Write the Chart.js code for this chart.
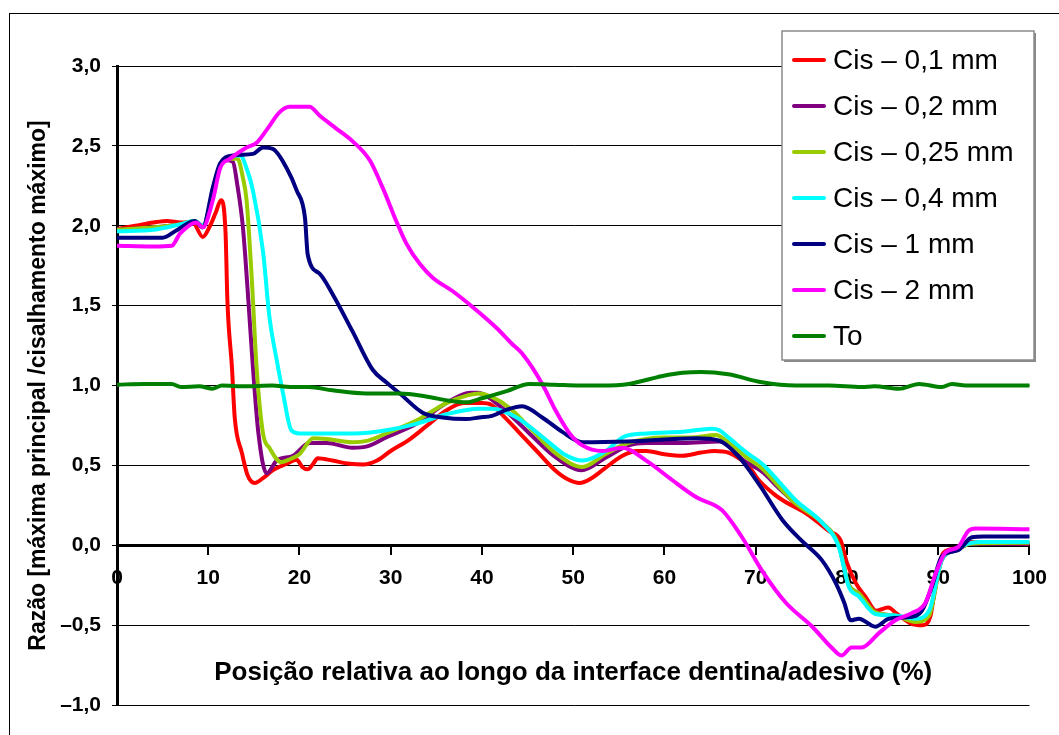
<!DOCTYPE html>
<html>
<head>
<meta charset="utf-8">
<title>Razão máxima principal / cisalhamento máximo</title>
<script src="https://cdn.jsdelivr.net/npm/chart.js@4.4.1/dist/chart.umd.min.js"></script>
<style>
  html, body { margin: 0; padding: 0; background: #fff; }
  #chart { display: block; }
</style>
</head>
<body>
<canvas id="chart" width="1059" height="735"></canvas>
<script>
// posição relativa (%) e razão para cada curva
const cis01X = [0, 2, 4, 5.5, 7, 8.3, 9.4, 10.2, 10.8, 11.4, 11.9, 12.1, 12.6, 12.9, 13.7, 14.3, 15.1, 16, 17.1, 18.6,
  19.7, 20.3, 20.9, 21.5, 22, 23.6, 25.5, 27, 28.5, 30, 32, 34, 36, 38, 40, 41, 42.5, 44, 46, 48,
  49.5, 50.7, 52, 53.2, 55.4, 57, 58, 60, 62, 64, 65.5, 67, 68, 69.3, 70.3, 72, 73, 75.5, 78, 79.3,
  80, 81, 82, 83.2, 84.5, 85.5, 87, 88.3, 89.2, 89.8, 90.6, 92.2, 93.7, 95, 100];
const cis01Y = [1.98, 2.0, 2.02, 2.03, 2.02, 2.02, 1.93, 2.0, 2.08, 2.16, 1.95, 1.53, 1.11, 0.80, 0.575, 0.44, 0.39, 0.42, 0.47, 0.51,
  0.535, 0.49, 0.475, 0.51, 0.545, 0.53, 0.51, 0.505, 0.53, 0.59, 0.66, 0.75, 0.84, 0.89, 0.89, 0.88, 0.8, 0.71, 0.59, 0.47,
  0.41, 0.39, 0.42, 0.47, 0.56, 0.59, 0.59, 0.57, 0.56, 0.58, 0.59, 0.58, 0.55, 0.49, 0.41, 0.32, 0.28, 0.2, 0.09, 0.03,
  -0.11, -0.24, -0.32, -0.41, -0.39, -0.43, -0.49, -0.5, -0.43, -0.2, -0.045, -0.02, 0.02, 0.015, 0.01];

const cis02X = [0, 4, 7, 8.5, 9.4, 10.5, 11.3, 12, 12.7, 13.2, 13.8, 14.4, 14.9, 15.5, 16.4, 17.5, 19.3, 21.1, 23, 25.8,
  27.5, 29.5, 32.8, 36.1, 38.7, 39.5, 42.2, 45.2, 48.1, 50.9, 53.6, 56.1, 58, 62, 66, 67, 68.5, 70.7, 72.5, 74.4,
  77.3, 79.1, 80.2, 81.3, 83.1, 85.3, 87.5, 89, 90.4, 92, 93.5, 100];
const cis02Y = [1.975, 1.99, 2.01, 2.03, 2.0, 2.2, 2.37, 2.41, 2.40, 2.25, 1.99, 1.53, 1.11, 0.70, 0.45, 0.53, 0.56, 0.64, 0.64, 0.61,
  0.62, 0.675, 0.76, 0.89, 0.955, 0.955, 0.86, 0.70, 0.55, 0.47, 0.55, 0.625, 0.64, 0.64, 0.65, 0.625, 0.54, 0.46, 0.36, 0.26,
  0.14, 0.0, -0.25, -0.3, -0.42, -0.44, -0.47, -0.43, -0.09, -0.03, 0.01, 0.01];

const cis025X = [0, 4, 7, 8.5, 9.4, 10.5, 11.3, 12.4, 13.2, 13.8, 14.2, 14.8, 15.3, 16, 16.7, 18, 19, 20, 21.5, 23,
  25.8, 27.5, 29.5, 32.8, 36.1, 38.5, 39.7, 41, 43, 45.5, 48.2, 51, 53.5, 56, 60, 63, 65.6, 67, 69, 70.7,
  72.5, 74.4, 77.3, 79.1, 80.2, 81.3, 83.1, 85.3, 87.5, 89, 90.4, 92, 93.5, 100];
const cis025Y = [1.975, 1.99, 2.01, 2.03, 2.0, 2.2, 2.37, 2.42, 2.42, 2.3, 2.16, 1.64, 1.11, 0.70, 0.61, 0.52, 0.54, 0.57, 0.67, 0.665,
  0.645, 0.655, 0.70, 0.78, 0.89, 0.94, 0.95, 0.93, 0.86, 0.72, 0.57, 0.49, 0.57, 0.64, 0.675, 0.675, 0.69, 0.645, 0.55, 0.48,
  0.37, 0.26, 0.14, 0.0, -0.25, -0.3, -0.42, -0.44, -0.48, -0.44, -0.09, -0.03, 0.01, 0.015];

const cis04X = [0, 4, 7, 8.5, 9.4, 10.5, 11.3, 12.4, 13.5, 14.2, 14.9, 16, 16.7, 17.5, 18.2, 19.1, 20, 22, 26, 29.5,
  32.8, 36.1, 39.7, 41.1, 43.8, 47, 49, 51, 53.6, 55.4, 58, 62, 65.2, 66, 67, 69, 70.7, 72.5, 74.4, 77.3,
  79.1, 80.2, 81.3, 83.1, 85.3, 87.5, 89, 90.4, 91.9, 93.3, 94.5, 100];
const cis04Y = [1.965, 1.975, 2.01, 2.03, 2.0, 2.2, 2.37, 2.43, 2.44, 2.36, 2.22, 1.84, 1.43, 1.16, 0.95, 0.72, 0.70, 0.70, 0.70, 0.72,
  0.76, 0.82, 0.855, 0.855, 0.80, 0.66, 0.57, 0.53, 0.59, 0.675, 0.70, 0.71, 0.73, 0.72, 0.675, 0.58, 0.51, 0.40, 0.28, 0.14,
  -0.01, -0.26, -0.32, -0.43, -0.44, -0.46, -0.41, -0.09, -0.03, 0.01, 0.02, 0.02];

const cis1X = [0, 5, 6.5, 8.5, 9.4, 10.5, 11.3, 12.7, 14.9, 16, 17.1, 18.6, 19.7, 20.6, 20.9, 22.2, 23.6, 25.8, 28, 29.5,
  31, 33.5, 35.7, 38.3, 39.7, 41.1, 42.8, 44.4, 46.6, 48.8, 51, 56, 63.5, 66, 68.2, 70.5, 72.9, 75, 77.2, 78.8,
  79.7, 80.4, 81.3, 83.1, 84.6, 86.8, 88.2, 89.3, 90.4, 92.2, 93.7, 95, 100];
const cis1Y = [1.925, 1.925, 1.97, 2.03, 1.99, 2.24, 2.39, 2.44, 2.45, 2.49, 2.48, 2.36, 2.22, 2.05, 1.82, 1.70, 1.575, 1.34, 1.1, 1.02,
  0.95, 0.83, 0.80, 0.79, 0.80, 0.81, 0.85, 0.87, 0.80, 0.71, 0.645, 0.65, 0.67, 0.655, 0.55, 0.37, 0.16, 0.03, -0.09, -0.24,
  -0.36, -0.47, -0.46, -0.51, -0.46, -0.45, -0.41, -0.26, -0.07, -0.03, 0.05, 0.055, 0.055];

const cis2X = [0, 4, 6, 6.9, 8.7, 9.4, 10.5, 11.3, 12.4, 14.2, 15.3, 16.4, 17.8, 18.9, 21.1, 22.2, 24, 25.8, 27.7, 29.1,
  30.6, 31.7, 33.2, 34.6, 36.8, 39, 41.6, 43.3, 44.4, 46.6, 48.1, 49.6, 51, 53.2, 55.4, 58, 60.8, 63.5, 66.3, 68.5,
  70.7, 73.3, 76.2, 78.3, 79.4, 80.5, 81.6, 83.5, 85.3, 87.1, 88.6, 89.7, 90.8, 92.2, 93.3, 94.1, 100];
const cis2Y = [1.875, 1.87, 1.875, 1.95, 2.02, 1.99, 2.16, 2.36, 2.42, 2.49, 2.52, 2.6, 2.71, 2.745, 2.745, 2.69, 2.61, 2.53, 2.41, 2.24,
  2.03, 1.89, 1.76, 1.675, 1.59, 1.49, 1.36, 1.26, 1.2, 1.01, 0.84, 0.70, 0.625, 0.59, 0.61, 0.53, 0.41, 0.30, 0.22, 0.05,
  -0.16, -0.36, -0.51, -0.64, -0.69, -0.64, -0.64, -0.55, -0.47, -0.425, -0.36, -0.18, -0.045, -0.01, 0.09, 0.105, 0.10];

const toX = [0, 3, 6, 7, 9, 10.5, 11.5, 14, 17, 19, 21, 23.6, 27.3, 31, 34, 36.4, 38.3, 40, 42.7, 45.2,
  48, 50.7, 53, 56.1, 59.8, 62, 64, 67, 70.7, 74.4, 78, 81.6, 83, 85.7, 87.9, 90.4, 91.5, 93, 100];
const toY = [1.005, 1.01, 1.01, 0.99, 0.995, 0.98, 1.0, 0.995, 1.0, 0.99, 0.99, 0.97, 0.95, 0.95, 0.93, 0.905, 0.895, 0.92, 0.965, 1.01,
  1.005, 1.0, 1.0, 1.01, 1.06, 1.08, 1.085, 1.07, 1.02, 1.0, 1.0, 0.99, 0.995, 0.98, 1.01, 0.99, 1.01, 1.0, 1.0];

const seriesLabels = ['Cis – 0,1 mm', 'Cis – 0,2 mm', 'Cis – 0,25 mm', 'Cis – 0,4 mm', 'Cis – 1 mm', 'Cis – 2 mm', 'To'];
const seriesColors = ['#ff0000', '#800080', '#99cc00', '#00ffff', '#000080', '#ff00ff', '#008000'];
const seriesXs = [cis01X, cis02X, cis025X, cis04X, cis1X, cis2X, toX];
const seriesYs = [cis01Y, cis02Y, cis025Y, cis04Y, cis1Y, cis2Y, toY];

const FONT = "'Liberation Sans', Arial, Helvetica, sans-serif";

const fmtRatio = (v) => Number(v).toFixed(1).replace('.', ',').replace('-', '–');

// white page with the thin outer frame
const framePlugin = {
  id: 'frame',
  beforeDraw(chart) {
    const { ctx, width, height } = chart;
    ctx.save();
    ctx.fillStyle = '#fff';
    ctx.fillRect(0, 0, width, height);
    ctx.strokeStyle = '#000';
    ctx.lineWidth = 1;
    ctx.strokeRect(9.5, 13.5, width + 20, height + 20);
    ctx.restore();
  }
};

// boxed legend sitting over the top-right of the plot
const legendBoxPlugin = {
  id: 'legendBox',
  afterDraw(chart, args, opts) {
    const { ctx } = chart;
    const { x, y, w, h, first, step } = opts;
    ctx.save();
    ctx.fillStyle = '#8a8a8a';
    ctx.fillRect(x + 2, y + 2, w, h);
    ctx.fillStyle = '#fff';
    ctx.fillRect(x, y, w, h);
    ctx.strokeStyle = '#8a8a8a';
    ctx.lineWidth = 1.5;
    ctx.strokeRect(x, y, w, h);

    ctx.font = `28px ${FONT}`;
    ctx.textBaseline = 'middle';
    ctx.textAlign = 'left';
    chart.data.datasets.forEach((ds, i) => {
      const cy = y + first + i * step;
      ctx.strokeStyle = ds.borderColor;
      ctx.lineWidth = 4;
      ctx.lineCap = 'round';
      ctx.beginPath();
      ctx.moveTo(x + 12, cy);
      ctx.lineTo(x + 42, cy);
      ctx.stroke();
      ctx.fillStyle = '#000';
      ctx.fillText(ds.label, x + 51, cy + 1);
    });
    ctx.restore();
  }
};

const datasets = seriesLabels.map((label, i) => ({
  label,
  data: seriesXs[i].map((x, k) => ({ x, y: seriesYs[i][k] })),
  borderColor: seriesColors[i],
  backgroundColor: seriesColors[i],
  borderWidth: 4,
  pointRadius: 0,
  fill: false,
  cubicInterpolationMode: 'monotone',
  borderJoinStyle: 'round',
  borderCapStyle: 'round',
  order: seriesLabels.length - i   // later series drawn on top
}));

new Chart(document.getElementById('chart'), {
  type: 'line',
  data: { datasets },
  options: {
    responsive: false,
    animation: false,
    devicePixelRatio: 1,
    layout: { padding: { left: 20, right: 27, top: 66, bottom: 30 } },
    plugins: {
      legend: { display: false },
      tooltip: { enabled: false },
      legendBox: { x: 782, y: 31, w: 252, h: 329, first: 29, step: 46 }
    },
    scales: {
      x: {
        type: 'linear',
        axis: 'x',
        min: 0,
        max: 100,
        position: { y: 0 },
        ticks: {
          stepSize: 10,
          color: '#000',
          padding: 12,
          maxRotation: 0,
          font: { family: FONT, size: 21, weight: 'bold' }
        },
        grid: { drawOnChartArea: false, drawTicks: true, tickLength: 8, color: '#000', lineWidth: 2 },
        border: { display: true, color: '#000', width: 3 },
        title: {
          display: true,
          text: 'Posição relativa ao longo da interface dentina/adesivo (%)',
          color: '#000',
          font: { family: FONT, size: 26, weight: 'bold' },
          padding: { top: 55, bottom: 0 }
        }
      },
      y: {
        type: 'linear',
        position: 'left',
        min: -1,
        max: 3,
        ticks: {
          stepSize: 0.5,
          color: '#000',
          padding: 11,
          callback: fmtRatio,
          font: { family: FONT, size: 21, weight: 'bold' }
        },
        grid: { color: '#000', lineWidth: 1, tickLength: 5 },
        border: { display: true, color: '#000', width: 3 },
        title: {
          display: true,
          text: 'Razão [máxima principal /cisalhamento máximo]',
          color: '#000',
          font: { family: FONT, size: 23, weight: 'bold' },
          padding: { top: 5, bottom: 0 }
        },
        afterFit(scale) { scale.width = 97; }
      }
    }
  },
  plugins: [framePlugin, legendBoxPlugin]
});
</script>
</body>
</html>
